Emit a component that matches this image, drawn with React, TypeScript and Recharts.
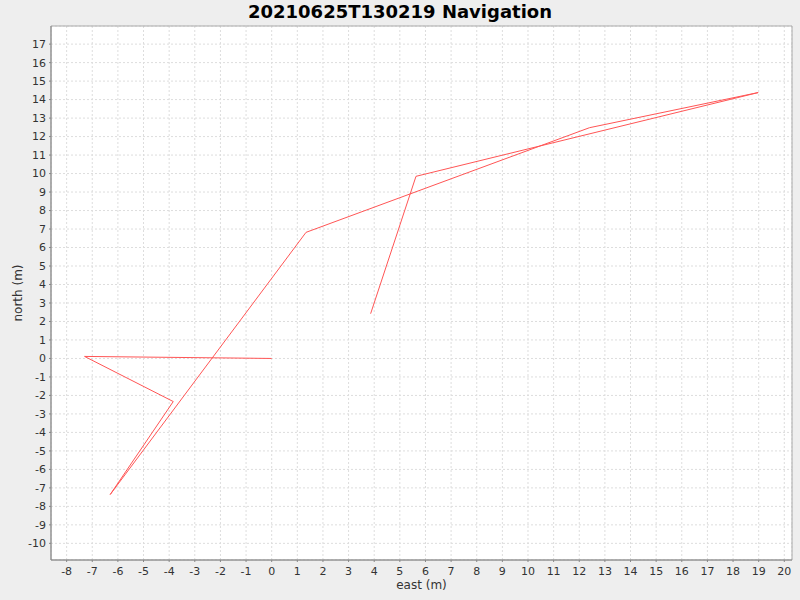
import { LineChart, Line, XAxis, YAxis, CartesianGrid, ReferenceArea } from "recharts";

// track points (east, north) in the order they were driven
const eastValues = [0, -7.3, -3.84, -6.3, 1.34, 12.4, 18.98, 5.63, 3.86];
const northValues = [0, 0.11, -2.33, -7.36, 6.82, 12.48, 14.38, 9.85, 2.42];

const xTicks = [-8, -7, -6, -5, -4, -3, -2, -1, 0, 1, 2, 3, 4, 5, 6, 7, 8, 9, 10, 11, 12, 13, 14, 15, 16, 17, 18, 19, 20];
const yTicks = [-10, -9, -8, -7, -6, -5, -4, -3, -2, -1, 0, 1, 2, 3, 4, 5, 6, 7, 8, 9, 10, 11, 12, 13, 14, 15, 16, 17];

const X_MIN = -8.61;
const X_MAX = 20.3;
const Y_MIN = -10.9;
const Y_MAX = 17.98;

const data = eastValues.map((east, i) => ({ east, north: northValues[i] }));

const FONT = "'DejaVu Sans', sans-serif";
const tickStyle = { fontSize: 11, fill: "#333333", fontFamily: FONT };

export default function App() {
    return (
        <div style={{ position: "fixed", left: 0, top: 0, width: 800, height: 600, background: "#eeeeee", fontFamily: FONT }}>
            <div style={{ position: "absolute", left: 0, top: 3, width: 800, textAlign: "center", fontSize: 18, lineHeight: "18px", fontWeight: "bold", color: "#000" }}>
                20210625T130219 Navigation
            </div>
            <LineChart width={800} height={600} data={data} margin={{ top: 26, right: 8, bottom: 0, left: 0 }}>
                <CartesianGrid fill="#ffffff" stroke="#dddddd" strokeDasharray="2 2" />
                <ReferenceArea x1={X_MIN} x2={X_MAX} y1={Y_MIN} y2={Y_MAX} fill="none" stroke="#aaaaaa" ifOverflow="visible" />
                <XAxis
                    type="number"
                    dataKey="east"
                    domain={[X_MIN, X_MAX]}
                    allowDataOverflow
                    ticks={xTicks}
                    interval={0}
                    height={40}
                    tickSize={2}
                    tickMargin={5}
                    stroke="#888888"
                    tick={tickStyle}
                />
                <YAxis
                    type="number"
                    dataKey="north"
                    domain={[Y_MIN, Y_MAX]}
                    allowDataOverflow
                    ticks={yTicks}
                    interval={0}
                    width={51}
                    tickSize={2}
                    tickMargin={3}
                    stroke="#888888"
                    tick={tickStyle}
                />
                <Line
                    type="linear"
                    dataKey="north"
                    stroke="#ff5555"
                    strokeWidth={1}
                    dot={false}
                    activeDot={false}
                    isAnimationActive={false}
                />
            </LineChart>
            <div style={{ position: "absolute", left: 51, top: 579, width: 741, textAlign: "center", fontSize: 12, lineHeight: "12px", color: "#333333" }}>
                east (m)
            </div>
            <div style={{ position: "absolute", left: 18 - 100, top: 293 - 6, width: 200, height: 12, textAlign: "center", fontSize: 12, lineHeight: "12px", color: "#333333", transform: "rotate(-90deg)" }}>
                north (m)
            </div>
        </div>
    );
}
